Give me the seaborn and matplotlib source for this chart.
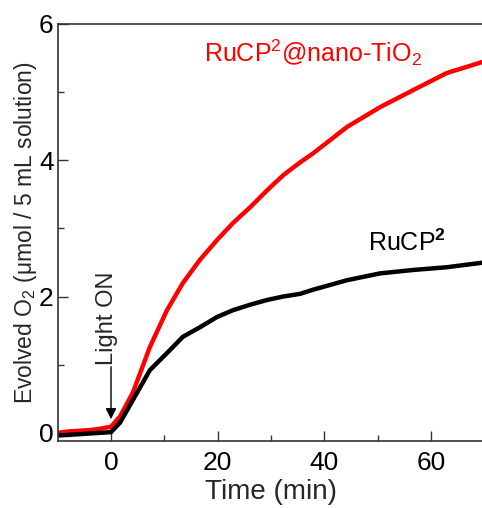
import numpy as np
import pandas as pd
import matplotlib
matplotlib.use("Agg")
import matplotlib.pyplot as plt
import seaborn as sns

# values
t_red = [-10, -8, -6, -4, -2, 0, 1.7, 4.1, 7.3, 10.5, 13.5, 16.7, 19.9, 22.9, 26.1, 29.3,
         32.3, 35.5, 37.9, 44.3, 50.5, 56.7, 63, 70]
o2_red = [0.0, 0.02, 0.03, 0.04, 0.06, 0.09, 0.24, 0.59, 1.26, 1.80, 2.20, 2.54, 2.83, 3.08,
          3.31, 3.56, 3.78, 3.97, 4.10, 4.49, 4.78, 5.03, 5.28, 5.45]
t_blk = [-10, -8, -6, -4, -2, 0, 1.7, 4.1, 7.3, 10.5, 13.5, 16.7, 19.9, 22.9, 26.1, 29.3,
         32.3, 35.5, 37.9, 44.3, 50.5, 56.7, 63, 70]
o2_blk = [-0.04, -0.03, -0.02, -0.01, 0.0, 0.01, 0.15, 0.48, 0.92, 1.17, 1.41, 1.55, 1.70,
          1.80, 1.88, 1.95, 2.0, 2.04, 2.1, 2.24, 2.34, 2.39, 2.43, 2.5]

df = pd.concat([
    pd.DataFrame({"t": t_red, "o2": o2_red, "s": "red"}),
    pd.DataFrame({"t": t_blk, "o2": o2_blk, "s": "black"}),
])

sns.set_style("ticks")
plt.rcParams["font.family"] = ["Liberation Sans", "DejaVu Sans"]
plt.rcParams["mathtext.fontset"] = "custom"
plt.rcParams["mathtext.rm"] = "Liberation Sans"
plt.rcParams["mathtext.it"] = "Liberation Sans:italic"
plt.rcParams["mathtext.bf"] = "Liberation Sans:bold"

fig = plt.figure(figsize=(4.82, 5.08), dpi=100)
ax = fig.add_axes([0.1197, 0.1319, 0.8847, 0.8209])

sns.lineplot(data=df, x="t", y="o2", hue="s", palette={"red": "#ff0000", "black": "#000000"},
             hue_order=["red", "black"], linewidth=3.2, legend=False, ax=ax, sort=False)

ax.set_xlim(-10, 70)
ax.set_ylim(-0.12, 6)
ax.set_xticks([0, 20, 40, 60])
ax.set_xticks([10, 30, 50], minor=True)
ax.set_yticks([0, 2, 4, 6])
ax.set_yticks([1, 3, 5], minor=True)
ax.tick_params(direction="in", which="major", length=7, width=1, labelsize=19, colors="#333333",
               labelcolor="black", pad=3)
ax.tick_params(axis="x", which="major", pad=7)
ax.tick_params(direction="in", which="minor", length=4, width=1, colors="#333333")
for sp in ax.spines.values():
    sp.set_color("#333333")
    sp.set_linewidth(1.2)

ax.set_xlabel("Time (min)", fontsize=20, labelpad=3)
ax.set_ylabel("Evolved O$_2$ (\u03bcmol / 5 mL solution)", fontsize=16.5, labelpad=0)

ax.text(37.9, 5.58, "RuCP$^2$@nano-TiO$_2$", color="#ff0000", fontsize=18, ha="center", va="center")
ax.text(55.5, 2.79, "RuCP$^\\mathbf{2}$", color="black", fontsize=18, ha="center", va="center")
ax.text(-0.7, 1.0, "Light ON", rotation=90, fontsize=17, ha="center", va="bottom")
ax.annotate("", xy=(0, 0.2), xytext=(0, 0.97),
            arrowprops=dict(arrowstyle="-|>", color="black", lw=1, mutation_scale=16,
                            shrinkA=0, shrinkB=0))

fig.savefig("out.png", dpi=100)
